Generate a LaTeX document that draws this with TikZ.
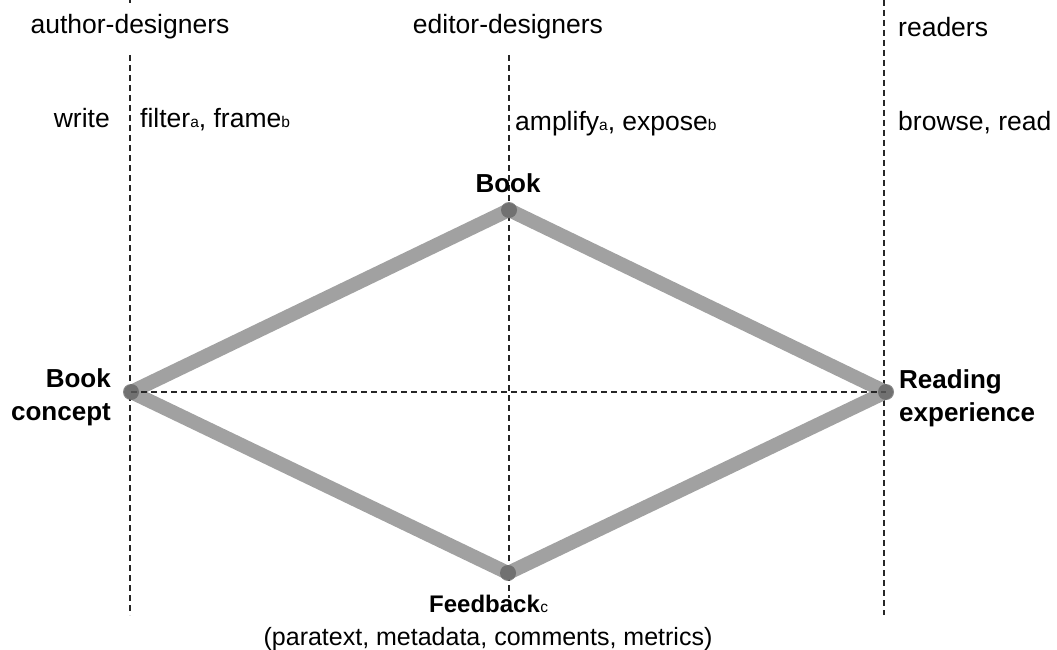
\documentclass[tikz,border=0pt]{standalone}
\usepackage{fontspec}
\setmainfont{Liberation Sans}
\begin{document}
\begin{tikzpicture}[x=1pt,y=-1pt,
  lbl/.style={inner sep=0pt,font=\fontsize{26.5}{31}\selectfont},
  blbl/.style={inner sep=0pt,font=\fontsize{26}{33}\selectfont\bfseries},
  guide/.style={dashed,dash pattern=on 6pt off 4pt,line width=1.1pt,black!85},
  edge/.style={line width=14pt,color=black!37},
  vertex/.style={circle,fill=black!62,fill opacity=0.75,minimum size=16pt,inner sep=0pt}]
\newcommand{\sbs}[1]{{\fontsize{15.5}{15}\selectfont #1}}
\useasboundingbox (0,0) rectangle (1057,650);
% coordinates of vertices
\coordinate (cL) at (131,392);
\coordinate (cT) at (509,210);
\coordinate (cR) at (886,392);
\coordinate (cB) at (508,573);
\coordinate (lTip) at (130,0);
\coordinate (lTipEnd) at (130,3);
\coordinate (lTop) at (130,55);
\coordinate (lBot) at (130,615);
\coordinate (mTop) at (509,55);
\coordinate (mBot) at (509,598);
\coordinate (rTop) at (884,0);
\coordinate (rBot) at (884,615);
% guides
\draw[guide] (lTip) -- (lTipEnd);
\draw[guide] (lTop) -- (lBot);
\draw[guide] (mTop) -- (mBot);
\draw[guide] (rTop) -- (rBot);
% headings
\node[lbl,anchor=base] (authd) at (130,34) {author-designers};
\node[lbl,anchor=base] (edd) at (508,34) {editor-designers};
\node[lbl,anchor=base west] (readers) at (898,37) {readers};
\node[lbl,anchor=base east] (write) at (110,128) {write};
\node[lbl,anchor=base west] (filter) at (140,128) {filter\sbs{a}, frame\sbs{b}};
\node[lbl,anchor=base west] (amplify) at (515,131) {amplify\sbs{a}, expose\sbs{b}};
\node[lbl,anchor=base west] (browse) at (898,131) {browse, read};
% diamond
\draw[edge,line cap=round,line join=round] (cL) -- (cT) -- (cR) -- (cB) -- cycle;
\draw[guide] (cL) -- (cR);
\node[vertex] (vL) at (cL) {};
\node[vertex] (vT) at (cT) {};
\node[vertex] (vR) at (cR) {};
\node[vertex] (vB) at (cB) {};
% labels
\node[blbl,anchor=base] (book) at (508,192) {Book};
\node[blbl,anchor=base east,align=right] (concept) at (111,420) {Book\\concept};
\node[blbl,anchor=base west,align=left] (reading) at (899,421) {Reading\\experience};
\node[blbl,anchor=base west,font=\fontsize{24}{28}\selectfont\bfseries] (feedback) at (429,612) {Feedback};
\node[lbl,anchor=base west] (fbc) at (feedback.base east) {\sbs{c}};
\node[lbl,anchor=base,font=\fontsize{25}{30}\selectfont] (paratext) at (488,645) {(paratext, metadata, comments, metrics)};
\end{tikzpicture}
\end{document}
